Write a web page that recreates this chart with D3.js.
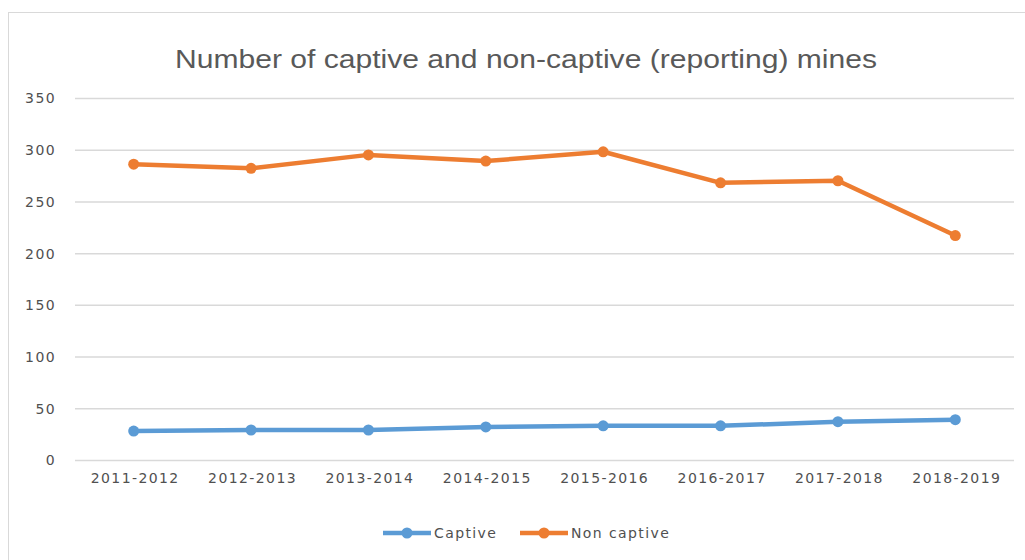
<!DOCTYPE html>
<html>
<head>
<meta charset="utf-8">
<script src="https://cdn.jsdelivr.net/npm/d3@7/dist/d3.min.js"></script>
<style>
  html, body { margin: 0; padding: 0; background: #fff; }
  svg { display: block; }
</style>
</head>
<body>
<svg id="chart" width="1025" height="560"></svg>
<script>
// Financial years on the x axis
const years = ["2011-2012", "2012-2013", "2013-2014", "2014-2015",
               "2015-2016", "2016-2017", "2017-2018", "2018-2019"];
// Number of reporting mines per year
const captive    = [28, 29, 29, 32, 33, 33, 37, 39];
const nonCaptive = [286, 282, 295, 289, 298, 268, 270, 217];
// Y axis ticks
const yTicks = [0, 50, 100, 150, 200, 250, 300, 350];

const seriesNames  = ["Captive", "Non captive"];
const seriesColors = ["#5B9BD5", "#ED7D31"];
const series = [captive, nonCaptive];

const svg = d3.select("#chart");
const textColor = "#595959";
const gridColor = "#d9d9d9";

// Chart frame
svg.append("rect")
  .attr("x", 8.5).attr("y", 12.5)
  .attr("width", 1040).attr("height", 580)
  .attr("fill", "#fff")
  .attr("stroke", gridColor).attr("stroke-width", 1);

// Title
svg.append("text")
  .attr("x", 526).attr("y", 68)
  .attr("text-anchor", "middle")
  .attr("font-family", "Liberation Sans, Arial, sans-serif")
  .attr("font-size", 26)
  .attr("fill", textColor)
  .attr("textLength", 702)
  .attr("lengthAdjust", "spacingAndGlyphs")
  .text("Number of captive and non-captive (reporting) mines");

const x = d3.scalePoint().domain(years).range([75, 1014]).padding(0.5);
const y = d3.scaleLinear().domain([0, 350]).range([460, 98]);

// Horizontal gridlines
svg.append("g").selectAll("line")
  .data(yTicks).join("line")
  .attr("x1", 75).attr("x2", 1014)
  .attr("y1", d => y(d) + 0.5).attr("y2", d => y(d) + 0.5)
  .attr("stroke", gridColor).attr("stroke-width", 1.5);

const labelFont = "DejaVu Sans, Verdana, sans-serif";
const labelColor = "#505050";

// Y axis labels
const yAxis = d3.axisLeft(y).tickValues(yTicks).tickSize(0).tickPadding(0);
const gy = svg.append("g").attr("transform", "translate(56,0)").call(yAxis);
gy.select(".domain").remove();
gy.selectAll("text")
  .attr("font-family", labelFont).attr("font-size", 14)
  .attr("letter-spacing", "1.4px")
  .attr("fill", labelColor)
  .attr("dy", "0.35em");

// X axis labels
const xAxis = d3.axisBottom(x).tickSize(0).tickPadding(0);
const gx = svg.append("g").attr("transform", "translate(0,479)").call(xAxis);
gx.select(".domain").remove();
gx.selectAll("text")
  .attr("font-family", labelFont).attr("font-size", 14)
  .attr("letter-spacing", "1.4px")
  .attr("fill", labelColor)
  .attr("dy", "0.3em")
  .attr("dx", "1px");

// Lines and markers
const line = d3.line().x((d, i) => x(years[i])).y(d => y(d));
series.forEach((vals, si) => {
  const g = svg.append("g");
  g.append("path")
    .datum(vals)
    .attr("d", line)
    .attr("fill", "none")
    .attr("stroke", seriesColors[si])
    .attr("stroke-width", 4.5)
    .attr("stroke-linejoin", "round");
  g.selectAll("circle")
    .data(vals).join("circle")
    .attr("cx", (d, i) => x(years[i]))
    .attr("cy", d => y(d))
    .attr("r", 5.5)
    .attr("fill", seriesColors[si]);
});

// Legend
const legendItems = [{x: 383}, {x: 520}];
legendItems.forEach((it, i) => {
  const g = svg.append("g").attr("transform", `translate(${it.x},533)`);
  g.append("line")
    .attr("x1", 0).attr("x2", 48).attr("y1", 0).attr("y2", 0)
    .attr("stroke", seriesColors[i]).attr("stroke-width", 4.5);
  g.append("circle").attr("cx", 24).attr("cy", 0).attr("r", 5.5)
    .attr("fill", seriesColors[i]);
  g.append("text")
    .attr("x", 51).attr("y", 0).attr("dy", "0.35em")
    .attr("font-family", labelFont).attr("font-size", 14)
    .attr("letter-spacing", "1.4px")
    .attr("fill", labelColor)
    .text(seriesNames[i]);
});
</script>
</body>
</html>
